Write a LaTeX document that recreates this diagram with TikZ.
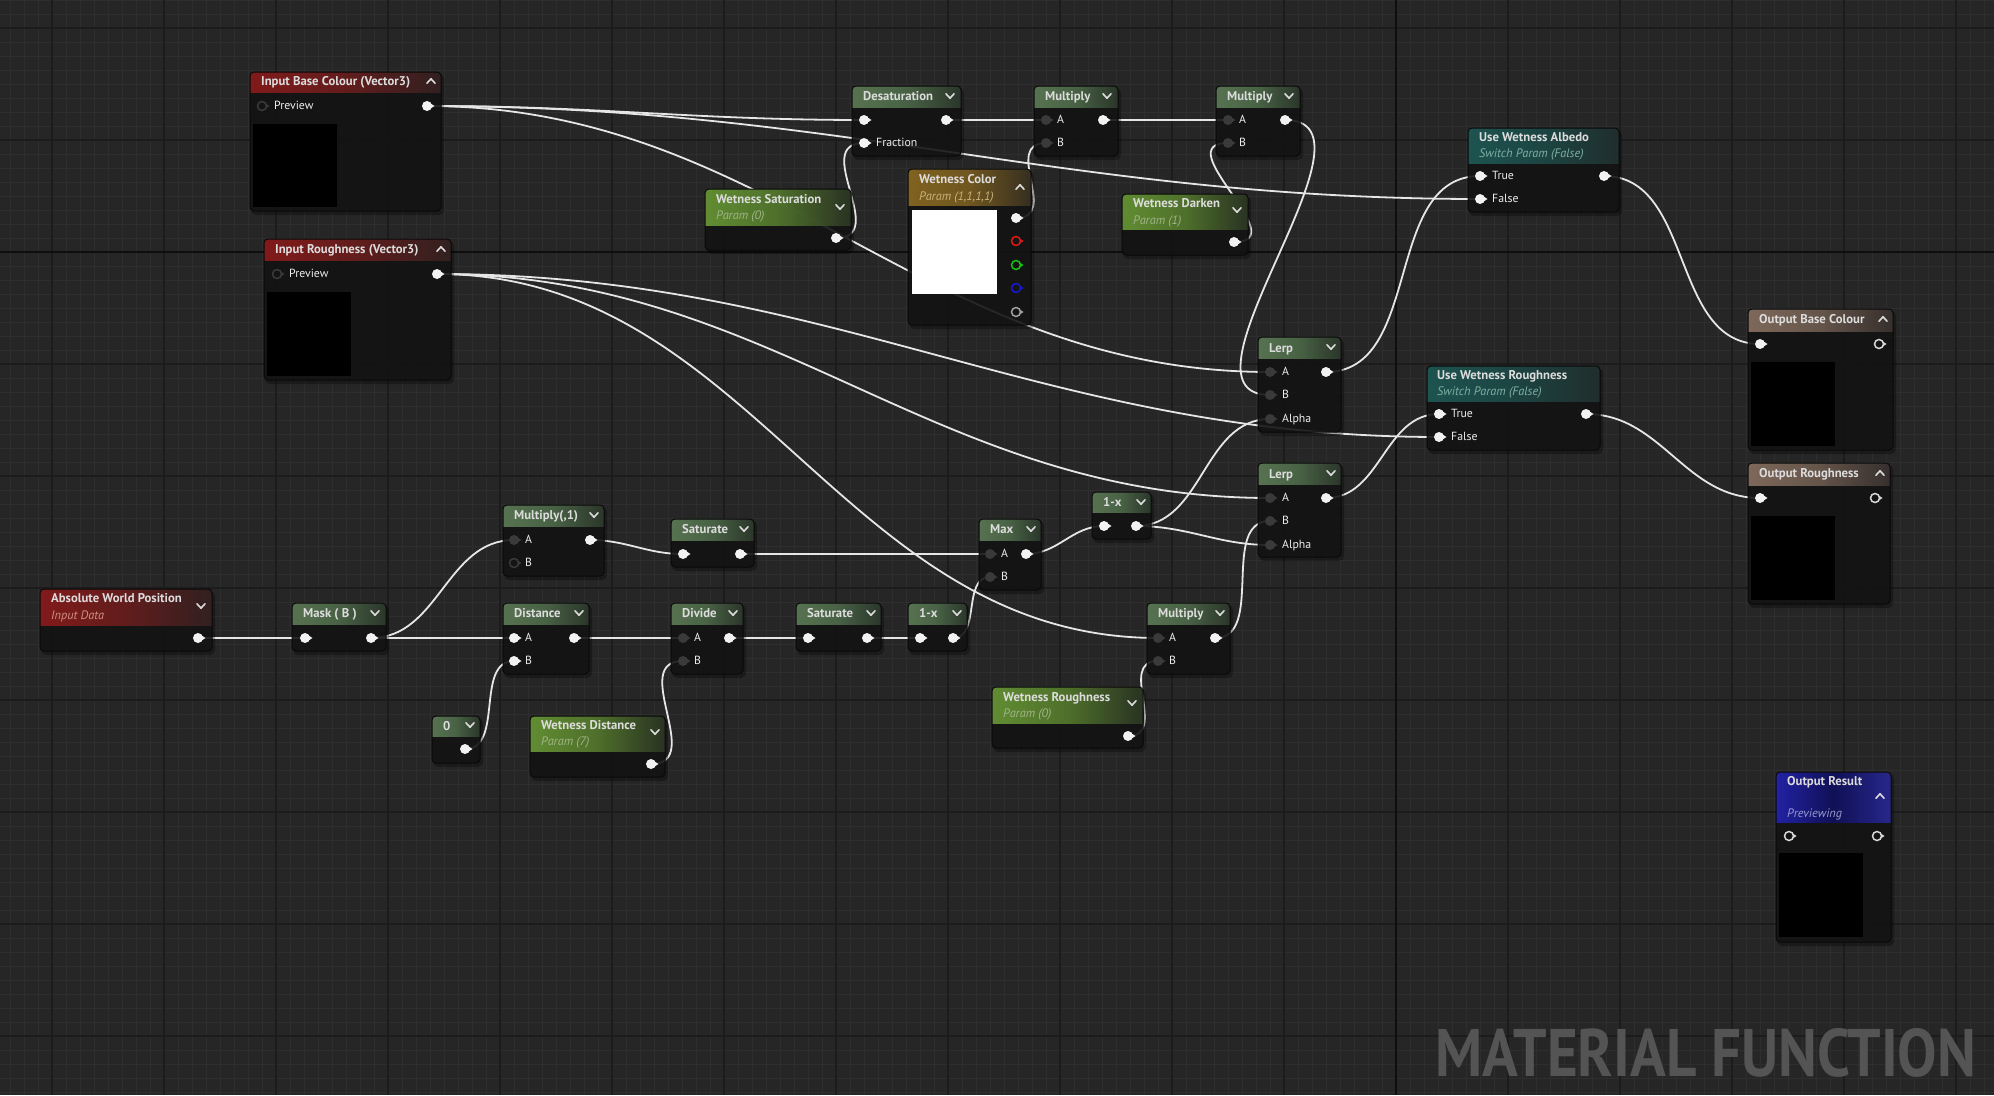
\documentclass[tikz,border=0pt]{standalone}
\usepackage{fontspec}
\setmainfont{PT Sans}
\usepackage{graphicx}
\usetikzlibrary{calc}
\pgfdeclarelayer{grid}
\pgfdeclarelayer{wires}
\pgfsetlayers{grid,wires,main}
\definecolor{bgc}{HTML}{262626}
\definecolor{gmin}{HTML}{2E2E2E}
\definecolor{gmaj}{HTML}{1C1C1C}
\definecolor{gorg}{HTML}{0E0E0E}
\definecolor{bodyc}{HTML}{131413}
\definecolor{edgec}{HTML}{090909}
\definecolor{wirec}{HTML}{E6E6E6}
\definecolor{pinwc}{HTML}{F2F2F2}
\definecolor{pindc}{HTML}{3A3A3A}
\definecolor{ttlc}{HTML}{DCDCDC}
\definecolor{lblc}{HTML}{EDEDED}
\definecolor{pinred}{HTML}{E01818}
\definecolor{pingreen}{HTML}{18C018}
\definecolor{pinblue}{HTML}{1818D0}
\definecolor{pingrey}{HTML}{A0A0A0}
\definecolor{pinring}{HTML}{D8D8D8}
\definecolor{hLred}{HTML}{8E1B1B}\definecolor{hMred}{HTML}{6A1E1E}\definecolor{hRred}{HTML}{352222}
\definecolor{hLfn}{HTML}{5F7D58}\definecolor{hMfn}{HTML}{4E6A4A}\definecolor{hRfn}{HTML}{2E3A2D}
\definecolor{hLpar}{HTML}{6A9A36}\definecolor{hMpar}{HTML}{557A2E}\definecolor{hRpar}{HTML}{2C3624}
\definecolor{hLteal}{HTML}{1F5B57}\definecolor{hMteal}{HTML}{1E4A48}\definecolor{hRteal}{HTML}{223130}
\definecolor{hLgold}{HTML}{8C6B22}\definecolor{hMgold}{HTML}{7A5E22}\definecolor{hRgold}{HTML}{3A3222}
\definecolor{hLbrown}{HTML}{8A7262}\definecolor{hMbrown}{HTML}{6E5C50}\definecolor{hRbrown}{HTML}{3A3331}
\definecolor{hLblue}{HTML}{2424B4}\definecolor{hMblue}{HTML}{10105E}\definecolor{hRblue}{HTML}{2A2A9A}
\definecolor{subpar}{HTML}{A0B488}
\definecolor{subred}{HTML}{D09080}
\definecolor{subteal}{HTML}{7FB0A5}
\definecolor{subgold}{HTML}{C8B27A}
\definecolor{subblue}{HTML}{9A9AD0}
\definecolor{mftext}{HTML}{545454}
\tikzset{
  nodebody/.style={fill=bodyc, fill opacity=0.86, rounded corners=4pt},
  nodeedge/.style={draw=edgec, line width=1pt, rounded corners=4pt},
  wire/.style={draw=wirec, line width=1.8pt},
  ttl/.style={anchor=west, inner sep=0pt, yshift=-1.5pt, text=ttlc, font=\fontsize{12.7}{14}\selectfont\bfseries, text height=8.8pt, text depth=2.2pt},
  subt/.style={anchor=west, inner sep=0pt, yshift=-1pt, font=\fontsize{12.3}{14}\selectfont\itshape, text height=8.5pt, text depth=2.2pt},
  lbl/.style={anchor=west, inner sep=0pt, text=lblc, font=\fontsize{11.8}{14}\selectfont, text height=8.2pt, text depth=2.2pt},
  chev/.style={draw=ttlc, line width=1.6pt, line cap=round, line join=round},
  pinwhite/.style={circle, fill=pinwc, minimum size=10pt, inner sep=0pt},
  pindark/.style={circle, fill=pindc, minimum size=10pt, inner sep=0pt},
}
\newcommand\mfNode[7]{%
  \fill[black, opacity=0.3, rounded corners=5pt] (#2+1,#3+2) rectangle (#4+3,#5+4);
  \path[nodebody] (#2,#3) rectangle (#4,#5);
  \begin{scope}
    \clip[rounded corners=4pt] (#2,#3) rectangle (#4,#5);
    \shade[left color=hL#7, right color=hR#7, middle color=hM#7, fill opacity=0.9] (#2,#3) rectangle (#4,#6);
  \end{scope}
  \path[nodeedge] (#2,#3) rectangle (#4,#5);
  \coordinate (#1) at (#2,#3);}
\newcommand\mfTtl[4]{\node[ttl] (#1) at (#2,#3) {#4};}
\newcommand\mfSub[5]{\node[subt, text=#5] (#1) at (#2,#3) {#4};}
\newcommand\mfLbl[4]{\node[lbl] (#1) at (#2,#3) {#4};}
\newcommand\mfChD[2]{\draw[chev] (#1-4,#2-2.2) -- (#1,#2+2.2) -- (#1+4,#2-2.2);}
\newcommand\mfChU[2]{\draw[chev] (#1-4,#2+2.2) -- (#1,#2-2.2) -- (#1+4,#2+2.2);}
\newcommand\mfPW[3]{\fill[pinwc] (#2+2.5,#3-3.2) -- (#2+7.5,#3) -- (#2+2.5,#3+3.2) -- cycle;
  \node[pinwhite] (#1) at (#2,#3) {};}
\newcommand\mfPD[3]{\fill[pindc] (#2+2.5,#3-3.2) -- (#2+7.5,#3) -- (#2+2.5,#3+3.2) -- cycle;
  \node[pindark] (#1) at (#2,#3) {};}
\newcommand\mfPR[4]{\fill[#4] (#2+3,#3-3) -- (#2+7.5,#3) -- (#2+3,#3+3) -- cycle;
  \node[circle, draw=#4, line width=1.5pt, fill=bodyc, minimum size=9pt, inner sep=0pt] (#1) at (#2,#3) {};}
\newcommand\mfPRD[3]{\fill[pindc] (#2+3,#3-3) -- (#2+7.5,#3) -- (#2+3,#3+3) -- cycle;
  \node[circle, draw=pindc, line width=1.5pt, fill=bodyc, minimum size=9pt, inner sep=0pt] (#1) at (#2,#3) {};}
\newcommand\mfPrev[5]{\fill[#5] (#1,#2) rectangle (#3,#4);}
% wire with horizontal tangents; control distance = factor * 0.3915 * length
\newcommand\mfWire[3][1]{\draw[wire] let \p1=(#2.center), \p2=(#3.center),
  \n1={#1*39.15*veclen((\x2-\x1)/100,(\y2-\y1)/100)} in
  (\p1) .. controls ($(\p1)+(\n1,0)$) and ($(\p2)-(\n1,0)$) .. (\p2);}
\begin{document}
\begin{tikzpicture}[x=1pt,y=-1pt]
\useasboundingbox (0,0) rectangle (1994,1095);
\begin{pgfonlayer}{grid}
  \fill[bgc] (0,0) rectangle (1994,1095);
  \foreach \gx in {10,24,...,1994} \draw[gmin, line width=0.8pt] (\gx,0) -- (\gx,1095);
  \foreach \gy in {0,14,...,1095} \draw[gmin, line width=0.8pt] (0,\gy) -- (1994,\gy);
  \foreach \gx in {52,164,...,1994} \draw[gmaj, line width=1.2pt] (\gx,0) -- (\gx,1095);
  \foreach \gy in {28,140,...,1095} \draw[gmaj, line width=1.2pt] (0,\gy) -- (1994,\gy);
  \draw[gorg, line width=1.5pt] (1396,0) -- (1396,1095);
  \draw[gorg, line width=1.5pt] (0,252) -- (1994,252);
\end{pgfonlayer}

% Input Base Colour
\mfNode{ibc}{250}{72}{441}{211}{92}{red}
\mfTtl{ibc-t}{261}{81}{Input Base Colour (Vector3)}
\mfChU{431}{81}
\mfPRD{ibc-p}{262}{106}
\mfLbl{ibc-l}{274}{106}{Preview}
\mfPW{ibc-o}{427}{106}
\mfPrev{253}{124}{337}{207}{black}

% Input Roughness
\mfNode{ir}{264}{239}{451}{380}{260}{red}
\mfTtl{ir-t}{275}{249}{Input Roughness (Vector3)}
\mfChU{441}{249}
\mfPRD{ir-p}{277}{274}
\mfLbl{ir-l}{289}{274}{Preview}
\mfPW{ir-o}{437}{274}
\mfPrev{267}{292}{351}{376}{black}

% Desaturation
\mfNode{des}{852}{86}{961}{156}{107}{fn}
\mfTtl{des-t}{863}{96}{Desaturation}
\mfChD{950}{96}
\mfPW{des-i}{864}{120}
\mfPW{des-f}{864}{143}
\mfLbl{des-l}{876}{143}{Fraction}
\mfPW{des-o}{946}{120}

% Multiply 1
\mfNode{m1}{1034}{86}{1118}{156}{107}{fn}
\mfTtl{m1-t}{1045}{96}{Multiply}
\mfChD{1107}{96}
\mfPD{m1-a}{1046}{120}\mfLbl{m1-la}{1057}{120}{A}
\mfPD{m1-b}{1046}{143}\mfLbl{m1-lb}{1057}{143}{B}
\mfPW{m1-o}{1103}{120}

% Multiply 2
\mfNode{m2}{1216}{86}{1300}{156}{107}{fn}
\mfTtl{m2-t}{1227}{96}{Multiply}
\mfChD{1289}{96}
\mfPD{m2-a}{1228}{120}\mfLbl{m2-la}{1239}{120}{A}
\mfPD{m2-b}{1228}{143}\mfLbl{m2-lb}{1239}{143}{B}
\mfPW{m2-o}{1285}{120}

% Wetness Color
\mfNode{wc}{908}{169}{1031}{325}{205}{gold}
\mfTtl{wc-t}{919}{179}{Wetness Color}
\mfSub{wc-s}{919}{196}{Param (1,1,1,1)}{subgold}
\mfChU{1020}{187}
\mfPrev{912}{210}{997}{294}{white}
\mfPW{wc-o}{1016}{218}
\mfPR{wc-r}{1016}{241}{pinred}
\mfPR{wc-g}{1016}{265}{pingreen}
\mfPR{wc-b}{1016}{288}{pinblue}
\mfPR{wc-a}{1016}{312}{pingrey}

% Wetness Saturation
\mfNode{ws}{705}{189}{851}{250}{225}{par}
\mfTtl{ws-t}{716}{199}{Wetness Saturation}
\mfSub{ws-s}{716}{215}{Param (0)}{subpar}
\mfChD{840}{207}
\mfPW{ws-o}{836}{238}

% Wetness Darken
\mfNode{wd}{1122}{194}{1248}{255}{229}{par}
\mfTtl{wd-t}{1133}{203}{Wetness Darken}
\mfSub{wd-s}{1133}{220}{Param (1)}{subpar}
\mfChD{1237}{210}
\mfPW{wd-o}{1234}{242}

% Use Wetness Albedo
\mfNode{uwa}{1468}{128}{1619}{212}{163}{teal}
\mfTtl{uwa-t}{1479}{137}{Use Wetness Albedo}
\mfSub{uwa-s}{1479}{153}{Switch Param (False)}{subteal}
\mfPW{uwa-tr}{1480}{176}\mfLbl{uwa-lt}{1492}{176}{True}
\mfPW{uwa-f}{1480}{199}\mfLbl{uwa-lf}{1492}{199}{False}
\mfPW{uwa-o}{1604}{176}

% Lerp 1
\mfNode{l1}{1258}{337}{1341}{432}{358}{fn}
\mfTtl{l1-t}{1269}{348}{Lerp}
\mfChD{1331}{347}
\mfPD{l1-a}{1270}{372}\mfLbl{l1-la}{1282}{372}{A}
\mfPD{l1-b}{1270}{395}\mfLbl{l1-lb}{1282}{395}{B}
\mfPD{l1-al}{1270}{419}\mfLbl{l1-lal}{1282}{419}{Alpha}
\mfPW{l1-o}{1326}{372}

% Lerp 2
\mfNode{l2}{1258}{463}{1341}{557}{484}{fn}
\mfTtl{l2-t}{1269}{474}{Lerp}
\mfChD{1331}{473}
\mfPD{l2-a}{1270}{498}\mfLbl{l2-la}{1282}{498}{A}
\mfPD{l2-b}{1270}{521}\mfLbl{l2-lb}{1282}{521}{B}
\mfPD{l2-al}{1270}{545}\mfLbl{l2-lal}{1282}{545}{Alpha}
\mfPW{l2-o}{1326}{498}

% Use Wetness Roughness
\mfNode{uwr}{1427}{366}{1600}{450}{401}{teal}
\mfTtl{uwr-t}{1437}{375}{Use Wetness Roughness}
\mfSub{uwr-s}{1437}{391}{Switch Param (False)}{subteal}
\mfPW{uwr-tr}{1439}{414}\mfLbl{uwr-lt}{1451}{414}{True}
\mfPW{uwr-f}{1439}{437}\mfLbl{uwr-lf}{1451}{437}{False}
\mfPW{uwr-o}{1586}{414}

% Output Base Colour
\mfNode{obc}{1748}{309}{1893}{450}{331}{brown}
\mfTtl{obc-t}{1759}{319}{Output Base Colour}
\mfChU{1883}{319}
\mfPW{obc-i}{1760}{344}
\mfPR{obc-o}{1879}{344}{pinring}
\mfPrev{1751}{362}{1835}{446}{black}

% Output Roughness
\mfNode{orr}{1748}{463}{1890}{604}{485}{brown}
\mfTtl{orr-t}{1759}{473}{Output Roughness}
\mfChU{1880}{473}
\mfPW{orr-i}{1760}{498}
\mfPR{orr-o}{1875}{498}{pinring}
\mfPrev{1751}{516}{1835}{600}{black}

% Absolute World Position
\mfNode{awp}{40}{589}{212}{651}{625}{red}
\mfTtl{awp-t}{51}{598}{Absolute World Position}
\mfSub{awp-s}{51}{615}{Input Data}{subred}
\mfChD{201}{606}
\mfPW{awp-o}{198}{638}

% Mask
\mfNode{mask}{292}{603}{386}{651}{624}{fn}
\mfTtl{mask-t}{303}{613}{Mask ( B )}
\mfChD{375}{613}
\mfPW{mask-i}{305}{638}
\mfPW{mask-o}{371}{638}

% Multiply(,1)
\mfNode{mul1}{503}{505}{604}{576}{526}{fn}
\mfTtl{mul1-t}{514}{515}{Multiply(,1)}
\mfChD{594}{515}
\mfPD{mul1-a}{514}{540}\mfLbl{mul1-la}{525}{540}{A}
\mfPRD{mul1-b}{514}{563}\mfLbl{mul1-lb}{525}{563}{B}
\mfPW{mul1-o}{590}{540}

% Saturate 1
\mfNode{sat1}{671}{519}{754}{567}{540}{fn}
\mfTtl{sat1-t}{682}{529}{Saturate}
\mfChD{744}{529}
\mfPW{sat1-i}{683}{554}
\mfPW{sat1-o}{740}{554}

% Distance
\mfNode{dist}{503}{603}{589}{674}{624}{fn}
\mfTtl{dist-t}{514}{613}{Distance}
\mfChD{579}{613}
\mfPW{dist-a}{514}{638}\mfLbl{dist-la}{525}{638}{A}
\mfPW{dist-b}{514}{661}\mfLbl{dist-lb}{525}{661}{B}
\mfPW{dist-o}{574}{638}

% Divide
\mfNode{dv}{671}{603}{743}{674}{624}{fn}
\mfTtl{dv-t}{682}{613}{Divide}
\mfChD{733}{613}
\mfPD{dv-a}{683}{638}\mfLbl{dv-la}{694}{638}{A}
\mfPD{dv-b}{683}{661}\mfLbl{dv-lb}{694}{661}{B}
\mfPW{dv-o}{729}{638}

% Constant 0
\mfNode{zero}{432}{716}{480}{763}{736}{fn}
\mfTtl{zero-t}{443}{726}{0}
\mfChD{470}{725}
\mfPW{zero-o}{465}{749}

% Wetness Distance
\mfNode{wdist}{530}{716}{665}{777}{751}{par}
\mfTtl{wdist-t}{541}{725}{Wetness Distance}
\mfSub{wdist-s}{541}{741}{Param (7)}{subpar}
\mfChD{655}{732}
\mfPW{wdist-o}{651}{764}

% Saturate 2
\mfNode{sat2}{796}{603}{881}{651}{624}{fn}
\mfTtl{sat2-t}{807}{613}{Saturate}
\mfChD{871}{613}
\mfPW{sat2-i}{808}{638}
\mfPW{sat2-o}{867}{638}

% 1-x (a)
\mfNode{omxa}{908}{603}{967}{651}{624}{fn}
\mfTtl{omxa-t}{919}{613}{1-x}
\mfChD{957}{613}
\mfPW{omxa-i}{920}{638}
\mfPW{omxa-o}{953}{638}

% Max
\mfNode{mx}{979}{519}{1041}{590}{540}{fn}
\mfTtl{mx-t}{990}{529}{Max}
\mfChD{1031}{529}
\mfPD{mx-a}{990}{554}\mfLbl{mx-la}{1001}{554}{A}
\mfPD{mx-b}{990}{577}\mfLbl{mx-lb}{1001}{577}{B}
\mfPW{mx-o}{1026}{554}

% 1-x (b)
\mfNode{omxb}{1092}{492}{1151}{539}{512}{fn}
\mfTtl{omxb-t}{1103}{502}{1-x}
\mfChD{1141}{502}
\mfPW{omxb-i}{1104}{526}
\mfPW{omxb-o}{1136}{526}

% Multiply 3
\mfNode{mul3}{1147}{603}{1230}{674}{624}{fn}
\mfTtl{mul3-t}{1158}{613}{Multiply}
\mfChD{1220}{613}
\mfPD{mul3-a}{1158}{638}\mfLbl{mul3-la}{1169}{638}{A}
\mfPD{mul3-b}{1158}{661}\mfLbl{mul3-lb}{1169}{661}{B}
\mfPW{mul3-o}{1215}{638}

% Wetness Roughness
\mfNode{wr}{992}{687}{1143}{748}{723}{par}
\mfTtl{wr-t}{1003}{697}{Wetness Roughness}
\mfSub{wr-s}{1003}{713}{Param (0)}{subpar}
\mfChD{1132}{703}
\mfPW{wr-o}{1128}{736}

% Output Result
\mfNode{ores}{1776}{772}{1891}{942}{822}{blue}
\mfTtl{ores-t}{1787}{781}{Output Result}
\mfSub{ores-s}{1787}{813}{Previewing}{subblue}
\mfChU{1880}{796}
\mfPR{ores-i}{1789}{836}{pinring}
\mfPR{ores-o}{1877}{836}{pinring}
\mfPrev{1779}{853}{1863}{937}{black}

% watermark
\node[anchor=south west, inner sep=0pt, text=mftext] (mf) at (1435,1078)
  {\resizebox{541pt}{48pt}{\bfseries MATERIAL FUNCTION}};

\begin{pgfonlayer}{wires}
  \mfWire{ibc-o}{des-i}
  \mfWire{ibc-o}{uwa-f}
  \mfWire{ibc-o}{l1-a}
  \mfWire{ir-o}{uwr-f}
  \mfWire{ir-o}{l2-a}
  \mfWire{ir-o}{mul3-a}
  \mfWire{des-o}{m1-a}
  \mfWire[1.4]{ws-o}{des-f}
  \mfWire[1.4]{wc-o}{m1-b}
  \mfWire{m1-o}{m2-a}
  \mfWire[1.6]{wd-o}{m2-b}
  \mfWire{m2-o}{l1-b}
  \mfWire{l1-o}{uwa-tr}
  \mfWire{uwa-o}{obc-i}
  \mfWire{l2-o}{uwr-tr}
  \mfWire{uwr-o}{orr-i}
  \mfWire{awp-o}{mask-i}
  \mfWire{mask-o}{mul1-a}
  \mfWire{mask-o}{dist-a}
  \mfWire{mul1-o}{sat1-i}
  \mfWire{sat1-o}{mx-a}
  \mfWire{dist-o}{dv-a}
  \mfWire{zero-o}{dist-b}
  \mfWire[1.3]{wdist-o}{dv-b}
  \mfWire{dv-o}{sat2-i}
  \mfWire{sat2-o}{omxa-i}
  \mfWire{omxa-o}{mx-b}
  \mfWire{mx-o}{omxb-i}
  \mfWire{omxb-o}{l1-al}
  \mfWire{omxb-o}{l2-al}
  \mfWire{mul3-o}{l2-b}
  \mfWire[1.3]{wr-o}{mul3-b}
\end{pgfonlayer}
\end{tikzpicture}
\end{document}
